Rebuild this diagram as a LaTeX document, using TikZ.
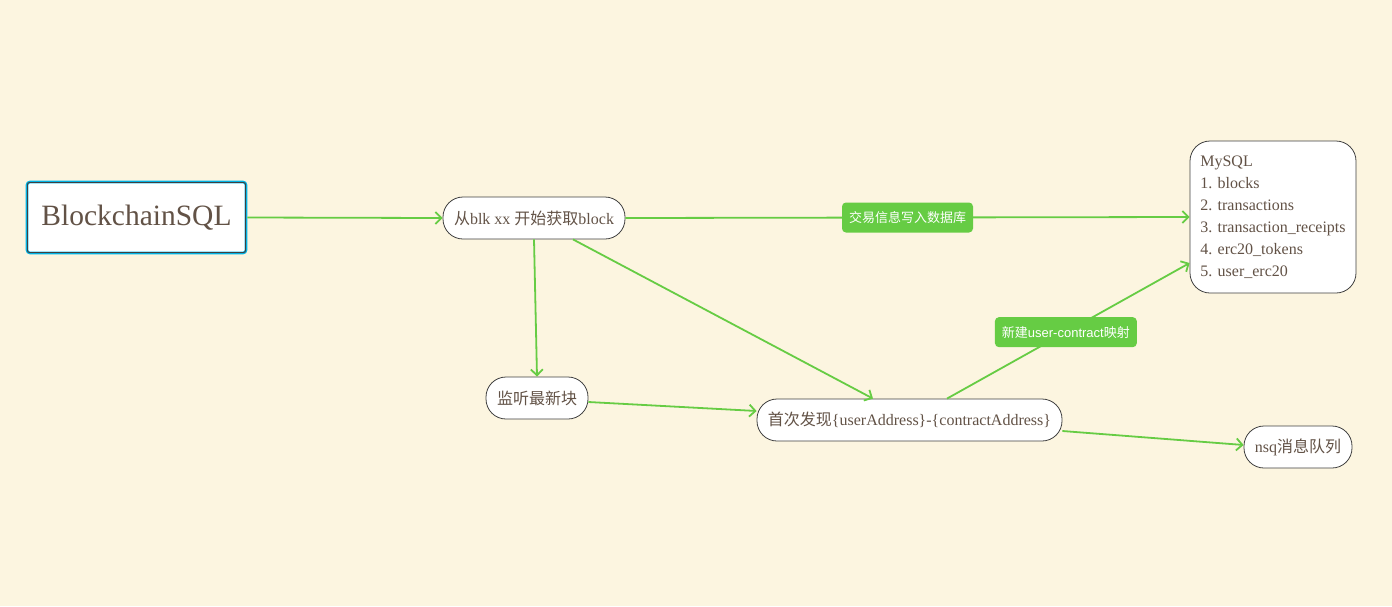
\documentclass[tikz,border=0pt]{standalone}
\usepackage{fontspec}
\setmainfont{Liberation Serif}
\newfontfamily\cjk{Noto Sans CJK SC}
\newfontfamily\labfont{Liberation Sans}
\usepackage{tikz}
\usetikzlibrary{arrows.meta,calc}
\definecolor{paper}{RGB}{252,245,224}
\definecolor{edge}{RGB}{102,204,68}
\definecolor{ink}{RGB}{98,82,70}
\definecolor{rim}{RGB}{0,178,228}
\newcommand{\zh}[1]{{\cjk #1}}
\tikzstyle{line} = [draw=edge, line width=1.8pt, -{Straight Barb[length=6pt,width=12pt]}]
\tikzstyle{pill} = [rectangle, rounded corners=20pt, draw=black!75, fill=white, line width=0.8pt,
                    minimum height=42pt, inner xsep=10pt, text=ink, font={\fontsize{16}{18}\selectfont}]
\tikzstyle{tag} = [rectangle, rounded corners=4pt, fill=edge, text=white, minimum height=30pt,
                   inner xsep=7pt, font={\labfont\fontsize{13}{15}\selectfont}]

\begin{document}
\begin{tikzpicture}[x={(1pt,0)}, y={(0,-1pt)}]
      \fill [paper] (0,0) rectangle (1392,606);
      \useasboundingbox (0,0) rectangle (1392,606);
      \node [rectangle, draw=rim, line width=2.6pt, fill=white, rounded corners=3pt,
             minimum width=219pt, minimum height=71pt, text=ink,
             font={\fontsize{29.5}{32}\selectfont}] at (136.5,217.5) (root) {BlockchainSQL};
      \draw [black!75, line width=0.9pt, rounded corners=2pt]
        ($(root.south west)+(1.8,-1.8)$) rectangle ($(root.north east)+(-1.8,1.8)$);
      \node [pill, minimum width=182pt] at (534,218) (fetch)
        {\zh{从}blk xx \zh{开始获取}block};
      \node [pill, minimum width=102pt] at (537,398) (watch) {\zh{监听最新块}};
      \node [pill, minimum width=305pt] at (909.5,420) (first)
        {\zh{首次发现}\{userAddress\}-\{contractAddress\}};
      \node [pill, minimum width=108pt] at (1298,447) (nsq) {nsq\zh{消息队列}};
      \node [rectangle, rounded corners=20pt, draw=black!75, fill=white, line width=0.8pt,
             minimum width=166pt, minimum height=152pt, align=left, text=ink,
             font={\fontsize{16}{22}\selectfont}] at (1273,217) (mysql)
        {MySQL\\
          1. blocks\\
          2. transactions\\
          3. transaction\_receipts\\
          4. erc20\_tokens\\
          5. user\_erc20};
      \path [line] (root.east) -- (fetch.west);
      \path [line] (fetch.east) -- node [tag] {\zh{交易信息写入数据库}} (mysql.west);
      \path [line] ($(fetch.south)+(0,0)$) -- (watch.north);
      \path [line] ($(fetch.south)+(39,0)$) -- ($(first.north)+(-36.5,0)$);
      \path [line] ($(watch.east)+(0,4)$) -- ($(first.west)+(0,-9)$);
      \path [line] ($(first.north)+(37.5,0)$) -- node [tag, pos=0.49] {\zh{新建}user-contract\zh{映射}}
        ($(mysql.west)+(0,46)$);
      \path [line] ($(first.east)+(0,11)$) -- ($(nsq.west)+(0,-2)$);
    \end{tikzpicture}
\end{document}
